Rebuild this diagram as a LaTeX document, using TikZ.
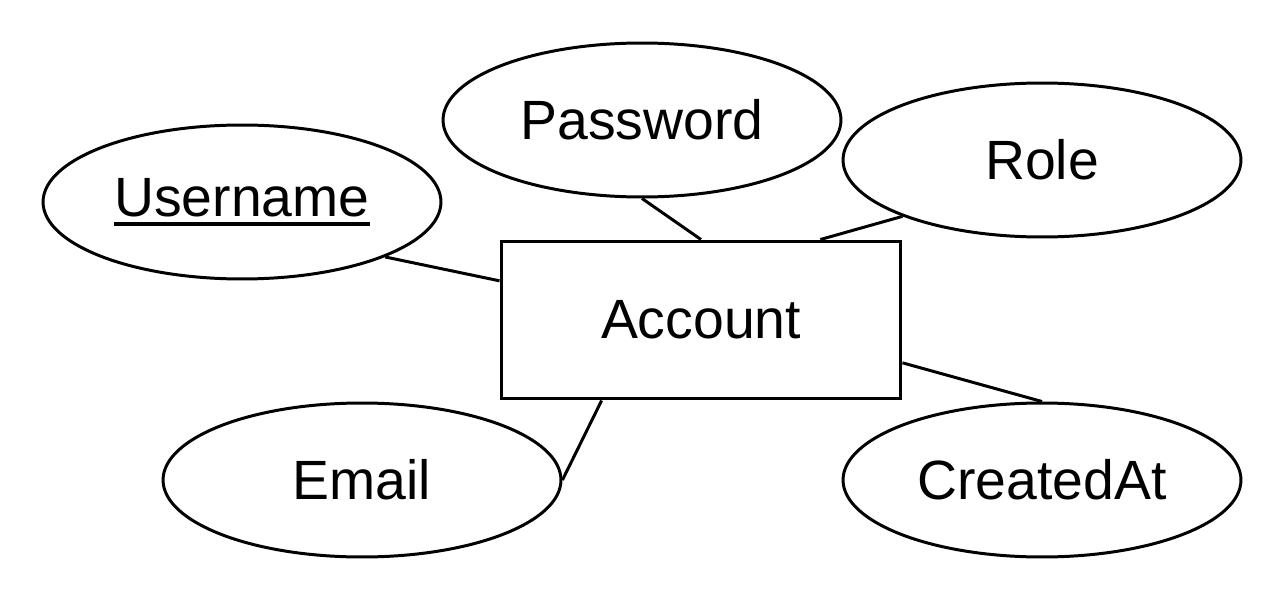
\documentclass[tikz,border=0pt]{standalone}
\usepackage{fontspec}
\setmainfont{Liberation Sans}
\usetikzlibrary{shapes.geometric}
\newcommand{\keyattr}[1]{\setbox0\hbox{#1}\rlap{\rule[-5.4pt]{\wd0}{2.2pt}}\box0}

\begin{document}
\begin{tikzpicture}[x=0.02cm, y=-0.02cm,
  attr/.style={draw, ellipse, line width=1.7pt, inner sep=0pt,
    minimum width=7.96cm, minimum height=3.08cm,
    font=\fontsize{31.5}{38}\selectfont},
  entity/.style={draw, rectangle, line width=1.7pt, inner sep=0pt,
    minimum width=8cm, minimum height=3.16cm,
    font=\fontsize{31.5}{38}\selectfont},
  link/.style={line width=1.7pt}]
  \useasboundingbox (0, 0) rectangle (1288, 608);

  % entity
  \node[entity] (acct) at (701, 320) {Account};

  % attributes
  \node[attr] (user) at (242, 202) {\keyattr{Username}};
  \node[attr] (pass) at (642, 120) {Password};
  \node[attr] (role) at (1042, 160) {Role};
  \node[attr] (mail) at (362, 480) {Email};
  \node[attr] (made) at (1042, 480) {CreatedAt};

  % links
  \draw[link] (user.-21) -- (acct.169);
  \draw[link] (pass.south) -- (acct.north);
  \draw[link] (role.202) -- (acct.34);
  \draw[link] (mail.east) -- (acct.219);
  \draw[link] (made.north) -- (acct.-12);

\end{tikzpicture}
\end{document}
